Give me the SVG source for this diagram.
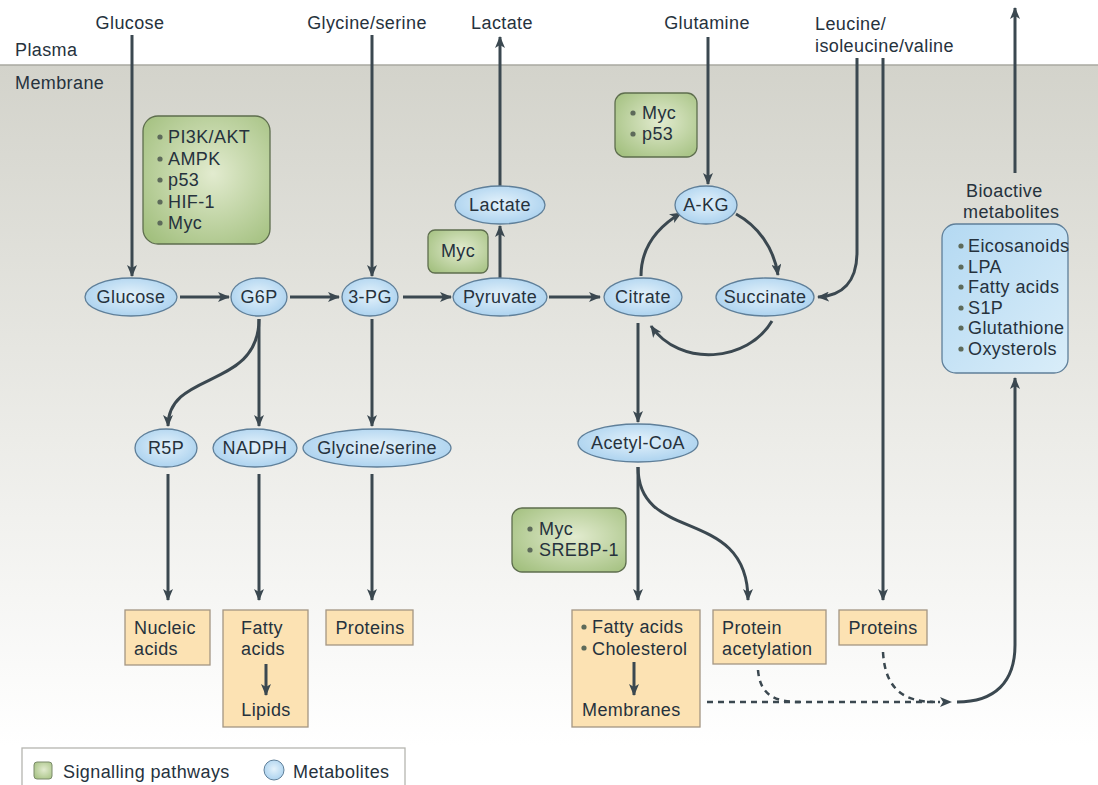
<svg xmlns="http://www.w3.org/2000/svg" width="1098" height="785" viewBox="0 0 1098 785">
<defs>
<linearGradient id="bg" x1="0" y1="0" x2="0" y2="1">
<stop offset="0" stop-color="#d3d3cb"/>
<stop offset="0.55" stop-color="#ecece8"/>
<stop offset="1" stop-color="#ffffff"/>
</linearGradient>
<radialGradient id="met" cx="0.5" cy="0.45" r="0.6">
<stop offset="0" stop-color="#e4f2fb"/>
<stop offset="1" stop-color="#a8d0ee"/>
</radialGradient>
<radialGradient id="sig" cx="0.55" cy="0.45" r="0.7">
<stop offset="0" stop-color="#e2ebcf"/>
<stop offset="1" stop-color="#a3c07f"/>
</radialGradient>
<linearGradient id="bio" x1="0" y1="0" x2="1" y2="1">
<stop offset="0" stop-color="#b4d9f2"/>
<stop offset="1" stop-color="#d9edf9"/>
</linearGradient>
<marker id="ah" viewBox="0 0 12 10" refX="11" refY="5" markerWidth="12" markerHeight="10" markerUnits="userSpaceOnUse" orient="auto">
<path d="M0,0 L12,5 L0,10 L3,5 Z" fill="#3b4850"/>
</marker>
<style>
text{font-family:"Liberation Sans",Arial,sans-serif;font-size:18px;letter-spacing:0.4px;fill:#26323d}
.c{text-anchor:middle}
.met{fill:url(#met);stroke:#5f7f99;stroke-width:1.3}
.sig{fill:url(#sig);stroke:#5e6e4e;stroke-width:1.3}
.out{fill:#fce2b3;stroke:#a49683;stroke-width:1.3}
.ar{fill:none;stroke:#3b4850;stroke-width:3;marker-end:url(#ah)}
.da{fill:none;stroke:#3b4850;stroke-width:2.5;stroke-dasharray:6 5}
.bu{fill:#5d6a5a}
</style>
</defs>

<g id="background">
<rect x="0" y="0" width="1098" height="785" fill="#ffffff"/>
<rect x="0" y="65" width="1098" height="680" fill="url(#bg)"/>
<line x1="0" y1="65" x2="1098" y2="65" stroke="#a9a9a1" stroke-width="1.5"/>
<text x="15" y="56">Plasma</text>
<text x="15" y="89">Membrane</text>
</g>

<g id="labels">
<text class="c" x="130" y="29">Glucose</text>
<text class="c" x="367" y="29">Glycine/serine</text>
<text class="c" x="502" y="29">Lactate</text>
<text class="c" x="707" y="29">Glutamine</text>
<text x="815" y="30">Leucine/</text>
<text x="815" y="52">isoleucine/valine</text>
</g>

<g id="connectors">
<path class="ar" d="M132,35 L132,276"/>
<path class="ar" d="M372,35 L372,276"/>
<path class="ar" d="M500,186 L500,37"/>
<path class="ar" d="M708,37 L708,184"/>
<path class="ar" d="M857,58 L857,252 C857,282 842,296 818,297"/>
<path class="ar" d="M883,58 L883,600"/>
<path class="ar" d="M1015,173 L1015,8"/>
<path class="ar" d="M180,297 L229,297"/>
<path class="ar" d="M290,297 L339,297"/>
<path class="ar" d="M403,297 L451,297"/>
<path class="ar" d="M549,297 L600,297"/>
<path class="ar" d="M500,278 L500,226"/>
<path class="ar" d="M641,276 C641,248 656,228 681,213"/>
<path class="ar" d="M736,214 C758,226 774,248 778,275"/>
<path class="ar" d="M772,321 C748,362 680,368 651,326"/>
<path class="ar" d="M259,319 C259,390 168,370 168,426"/>
<path class="ar" d="M259,319 L259,426"/>
<path class="ar" d="M372,319 L372,426"/>
<path class="ar" d="M168,474 L168,600"/>
<path class="ar" d="M259,474 L259,600"/>
<path class="ar" d="M372,474 L372,600"/>
<path class="ar" d="M638,323 L638,422"/>
<path class="ar" d="M638,467 L638,600"/>
<path class="ar" d="M638,467 C638,545 748,505 748,600"/>
<path class="da" d="M758,670 C760,696 776,702 800,702"/>
<path class="da" d="M883,652 C885,690 905,702 935,702"/>
<path class="da" d="M707,702 L940,702"/>
<path fill="#3b4850" d="M940,697 L952,702 L940,707 L943,702 Z"/>
<path class="ar" d="M957,702 C995,702 1015,682 1015,645 L1015,378"/>
</g>

<g id="n-sig1">
<rect class="sig" x="143" y="116" width="127" height="128" rx="15"/>
<circle class="bu" cx="160" cy="137" r="2.6"/><text x="168" y="143">PI3K/AKT</text>
<circle class="bu" cx="160" cy="159" r="2.6"/><text x="168" y="165">AMPK</text>
<circle class="bu" cx="160" cy="180" r="2.6"/><text x="168" y="186">p53</text>
<circle class="bu" cx="160" cy="202" r="2.6"/><text x="168" y="208">HIF-1</text>
<circle class="bu" cx="160" cy="223" r="2.6"/><text x="168" y="229">Myc</text>
</g>
<g id="n-sig2">
<rect class="sig" x="428" y="230" width="60" height="43" rx="7"/>
<text class="c" x="458" y="257">Myc</text>
</g>
<g id="n-sig3">
<rect class="sig" x="615" y="93" width="82" height="64" rx="10"/>
<circle class="bu" cx="633" cy="113" r="2.6"/><text x="642" y="119">Myc</text>
<circle class="bu" cx="633" cy="134" r="2.6"/><text x="642" y="140">p53</text>
</g>
<g id="n-sig4">
<rect class="sig" x="512" y="508" width="114" height="64" rx="10"/>
<circle class="bu" cx="530" cy="529" r="2.6"/><text x="539" y="535">Myc</text>
<circle class="bu" cx="530" cy="550" r="2.6"/><text x="539" y="556">SREBP-1</text>
</g>

<g id="n-glucose"><ellipse class="met" cx="131" cy="297" rx="46" ry="19"/><text class="c" x="131" y="303">Glucose</text></g>
<g id="n-g6p"><ellipse class="met" cx="259" cy="297" rx="28" ry="19"/><text class="c" x="259" y="303">G6P</text></g>
<g id="n-3pg"><ellipse class="met" cx="370" cy="297" rx="28" ry="19"/><text class="c" x="370" y="303">3-PG</text></g>
<g id="n-pyruvate"><ellipse class="met" cx="500" cy="297" rx="47" ry="19"/><text class="c" x="500" y="303">Pyruvate</text></g>
<g id="n-lactate"><ellipse class="met" cx="500" cy="205" rx="45" ry="19"/><text class="c" x="500" y="211">Lactate</text></g>
<g id="n-citrate"><ellipse class="met" cx="643" cy="297" rx="39" ry="19"/><text class="c" x="643" y="303">Citrate</text></g>
<g id="n-akg"><ellipse class="met" cx="706" cy="205" rx="31" ry="19"/><text class="c" x="706" y="211">A-KG</text></g>
<g id="n-succinate"><ellipse class="met" cx="765" cy="297" rx="49" ry="19"/><text class="c" x="765" y="303">Succinate</text></g>
<g id="n-r5p"><ellipse class="met" cx="166" cy="448" rx="31" ry="19"/><text class="c" x="166" y="454">R5P</text></g>
<g id="n-nadph"><ellipse class="met" cx="255" cy="448" rx="42" ry="19"/><text class="c" x="255" y="454">NADPH</text></g>
<g id="n-glyser"><ellipse class="met" cx="377" cy="448" rx="74" ry="19"/><text class="c" x="377" y="454">Glycine/serine</text></g>
<g id="n-acetylcoa"><ellipse class="met" cx="638" cy="443" rx="60" ry="19"/><text class="c" x="638" y="449">Acetyl-CoA</text></g>

<g id="n-bioactive">
<text x="966" y="197">Bioactive</text>
<text x="963" y="218">metabolites</text>
<rect x="942" y="224" width="126" height="149" rx="14" fill="url(#bio)" stroke="#5f7f99" stroke-width="1.3"/>
<circle class="bu" cx="961" cy="246" r="2.6"/><text x="968" y="252">Eicosanoids</text>
<circle class="bu" cx="961" cy="267" r="2.6"/><text x="968" y="273">LPA</text>
<circle class="bu" cx="961" cy="287" r="2.6"/><text x="968" y="293">Fatty acids</text>
<circle class="bu" cx="961" cy="308" r="2.6"/><text x="968" y="314">S1P</text>
<circle class="bu" cx="961" cy="328" r="2.6"/><text x="968" y="334">Glutathione</text>
<circle class="bu" cx="961" cy="349" r="2.6"/><text x="968" y="355">Oxysterols</text>
</g>

<g id="n-nucleic">
<rect class="out" x="125" y="610" width="85" height="55"/>
<text x="134" y="634">Nucleic</text>
<text x="134" y="655">acids</text>
</g>
<g id="n-lipids">
<rect class="out" x="223" y="610" width="85" height="117"/>
<text x="241" y="634">Fatty</text>
<text x="241" y="655">acids</text>
<path class="ar" d="M266,664 L266,695"/>
<text class="c" x="266" y="716">Lipids</text>
</g>
<g id="n-proteins1">
<rect class="out" x="326" y="610" width="87" height="35"/>
<text class="c" x="370" y="634">Proteins</text>
</g>
<g id="n-membranes">
<rect class="out" x="572" y="610" width="128" height="117"/>
<circle class="bu" cx="584" cy="627" r="2.6"/><text x="592" y="633">Fatty acids</text>
<circle class="bu" cx="584" cy="648" r="2.6"/><text x="592" y="655">Cholesterol</text>
<path class="ar" d="M634,662 L634,695"/>
<text x="582" y="716">Membranes</text>
</g>
<g id="n-acetylation">
<rect class="out" x="713" y="610" width="113" height="54"/>
<text x="722" y="634">Protein</text>
<text x="722" y="655">acetylation</text>
</g>
<g id="n-proteins2">
<rect class="out" x="839" y="610" width="88" height="35"/>
<text class="c" x="883" y="634">Proteins</text>
</g>

<g id="legend">
<rect x="22" y="748" width="383" height="50" fill="#ffffff" stroke="#b5b5b0" stroke-width="1.3"/>
<rect x="34" y="762" width="18" height="17" rx="3" fill="url(#sig)" stroke="#7a8a6a" stroke-width="1"/>
<text x="63" y="778">Signalling pathways</text>
<circle cx="274" cy="770" r="10" fill="url(#met)" stroke="#5f7f99" stroke-width="1"/>
<text x="293" y="778">Metabolites</text>
</g>
</svg>
